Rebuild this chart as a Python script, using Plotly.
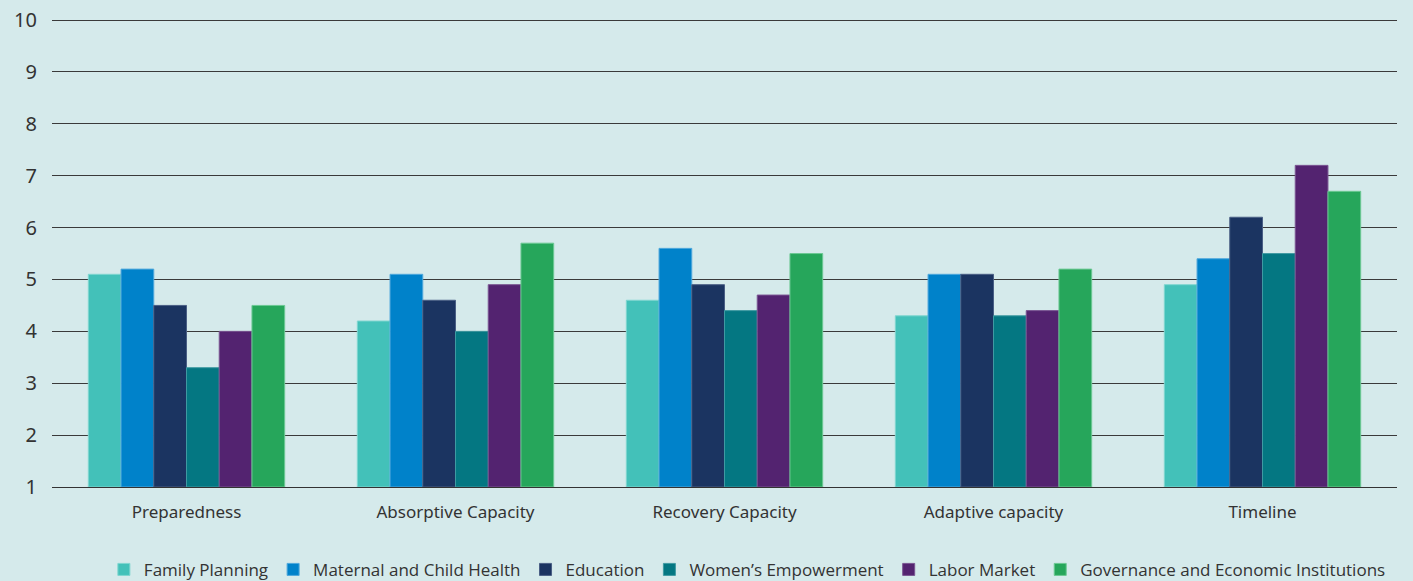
import plotly.graph_objects as go

categories = ["Preparedness", "Absorptive Capacity", "Recovery Capacity", "Adaptive capacity", "Timeline"]
series_names = ["Family Planning", "Maternal and Child Health", "Education",
                "Women’s Empowerment", "Labor Market", "Governance and Economic Institutions"]
family_planning = [5.1, 4.2, 4.6, 4.3, 4.9]
maternal_child_health = [5.2, 5.1, 5.6, 5.1, 5.4]
education = [4.5, 4.6, 4.9, 5.1, 6.2]
womens_empowerment = [3.3, 4.0, 4.4, 4.3, 5.5]
labor_market = [4.0, 4.9, 4.7, 4.4, 7.2]
governance = [4.5, 5.7, 5.5, 5.2, 6.7]
y_ticks = [1, 2, 3, 4, 5, 6, 7, 8, 9, 10]

series_values = [family_planning, maternal_child_health, education,
                 womens_empowerment, labor_market, governance]
colors = ["#43c1b9", "#0082ca", "#1b3461", "#047782", "#532370", "#26a65b"]
edge = ["#7fd6d0", "#4fa8dc", "#4a5f85", "#3f9aa2", "#7a5592", "#6cc893"]

bg = "#d5eaeb"
fig = go.Figure()
for name, vals, c, e in zip(series_names, series_values, colors, edge):
    fig.add_trace(go.Bar(
        x=categories, y=[v - 1 for v in vals], base=1, name=name,
        marker=dict(color=c, line=dict(color=e, width=1)),
    ))

fig.update_layout(
    barmode="group", bargap=0.27, bargroupgap=0,
    width=1413, height=581,
    paper_bgcolor=bg, plot_bgcolor=bg,
    margin=dict(l=52, r=16, t=17, b=94, autoexpand=False),
    font=dict(family="Noto Sans", color="#333333"),
    showlegend=True,
    legend=dict(orientation="h", x=0.517, xanchor="center", y=-0.138, yanchor="top",
                font=dict(family="Open Sans", size=17, color="#333333"),
                itemwidth=30, traceorder="normal", tracegroupgap=0,
                bgcolor="rgba(0,0,0,0)"),
    xaxis=dict(showgrid=False, showline=True, linecolor="#333333", linewidth=1,
               tickfont=dict(size=17, color="#333333"), ticks="",
               ticklabelstandoff=10),
    yaxis=dict(range=[1, 10.06], tickvals=y_ticks, showgrid=True, gridcolor="#3a3a3a",
               gridwidth=1, zeroline=False, showline=False,
               tickfont=dict(size=20, color="#333333"), ticklabelstandoff=14),
)
fig.write_html("out.html", config={"displayModeBar": False},
               post_script="document.body.style.margin='0';document.body.style.background='#d5eaeb';")
